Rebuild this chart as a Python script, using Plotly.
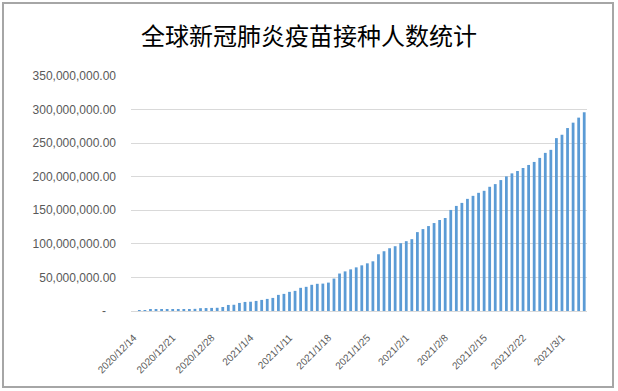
import datetime as dt
import plotly.graph_objects as go

# ---- data ----
start_date = dt.date(2020, 12, 14)
n_days = 82
dates = [start_date + dt.timedelta(days=i) for i in range(n_days)]
categories = [f"{d.year}/{d.month}/{d.day}" for d in dates]

# cumulative vaccinations, millions
vaccinated_millions = [
    0.0, 1.2, 1.3, 1.5, 1.6, 1.8, 1.9, 2.1, 2.6, 2.8,
    3.0, 3.2, 4.2, 4.4, 4.6, 4.8, 6.0, 9.0, 9.3, 12.0,
    13.5, 13.8, 15.0, 16.5, 18.0, 19.5, 24.0, 25.5, 28.5, 30.0,
    34.5, 36.0, 39.0, 40.5, 40.8, 42.3, 48.3, 55.8, 59.0, 62.0,
    65.0, 68.0, 71.0, 74.0, 84.5, 89.0, 93.5, 96.5, 101.0, 104.0,
    107.0, 117.5, 122.0, 126.5, 131.0, 135.5, 138.5, 150.5, 156.5, 161.0,
    167.0, 171.5, 176.0, 179.0, 185.0, 189.0, 195.0, 200.5, 205.0, 208.5,
    213.0, 217.5, 222.0, 228.0, 235.5, 240.0, 257.5, 262.5, 272.5, 280.5,
    288.0, 296.0,
]
values = [v * 1_000_000 for v in vaccinated_millions]

x_tick_labels = ["2020/12/14", "2020/12/21", "2020/12/28", "2021/1/4", "2021/1/11",
                 "2021/1/18", "2021/1/25", "2021/2/1", "2021/2/8", "2021/2/15",
                 "2021/2/22", "2021/3/1"]
y_tick_values = [0, 50e6, 100e6, 150e6, 200e6, 250e6, 300e6, 350e6]
y_tick_labels = ["-\u00a0\u00a0\u00a0", "50,000,000.00", "100,000,000.00", "150,000,000.00",
                 "200,000,000.00", "250,000,000.00", "300,000,000.00", "350,000,000.00"]
title_text = "全球新冠肺炎疫苗接种人数统计"

# ---- layout geometry (pixels) ----
W, H = 618, 391
L, R, T, B = 131, 31, 76, 80
PW, PH = W - L - R, H - T - B


def px_x(p):
    return (p - L) / PW


def px_y(p):
    return (H - B - p) / PH


fig = go.Figure(
    go.Bar(x=categories, y=values, marker=dict(color="#5b9bd5", line=dict(width=0)))
)

fig.update_layout(
    width=W, height=H,
    margin=dict(l=L, r=R, t=T, b=B),
    paper_bgcolor="white", plot_bgcolor="white",
    bargap=0.5,
    showlegend=False,
    title=dict(text=title_text, x=0.5, xref="container", xanchor="center",
               y=1 - 37 / H, yref="container", yanchor="middle",
               font=dict(family="Noto Sans CJK SC", size=24, color="#000000")),
    font=dict(family="Liberation Sans", color="#595959"),
    shapes=[dict(type="rect", xref="paper", yref="paper",
                 x0=px_x(3), x1=px_x(613), y0=px_y(387), y1=px_y(3),
                 line=dict(color="#a6a6a6", width=2), fillcolor="rgba(0,0,0,0)",
                 layer="below")],
)

fig.update_xaxes(
    type="category", tickmode="array", tickvals=x_tick_labels, ticktext=x_tick_labels,
    tickangle=-45, tickfont=dict(size=10, color="#595959", family="Liberation Sans"),
    showline=True, linecolor="#d9d9d9", linewidth=1, showgrid=False, ticks="",
    ticklabelstandoff=16, fixedrange=True,
)
fig.update_yaxes(
    range=[0, 350e6], tickmode="array", tickvals=y_tick_values, ticktext=y_tick_labels,
    tickfont=dict(size=12, color="#595959", family="Liberation Sans"),
    showgrid=True, gridcolor="#d9d9d9", gridwidth=1, zeroline=False, showline=False,
    ticks="", ticklabelstandoff=14, fixedrange=True,
)

fig.write_html(
    "out.html",
    config={"displayModeBar": False},
    post_script="document.body.style.margin='0';document.body.style.padding='0';"
                "document.body.style.overflow='hidden';",
)
